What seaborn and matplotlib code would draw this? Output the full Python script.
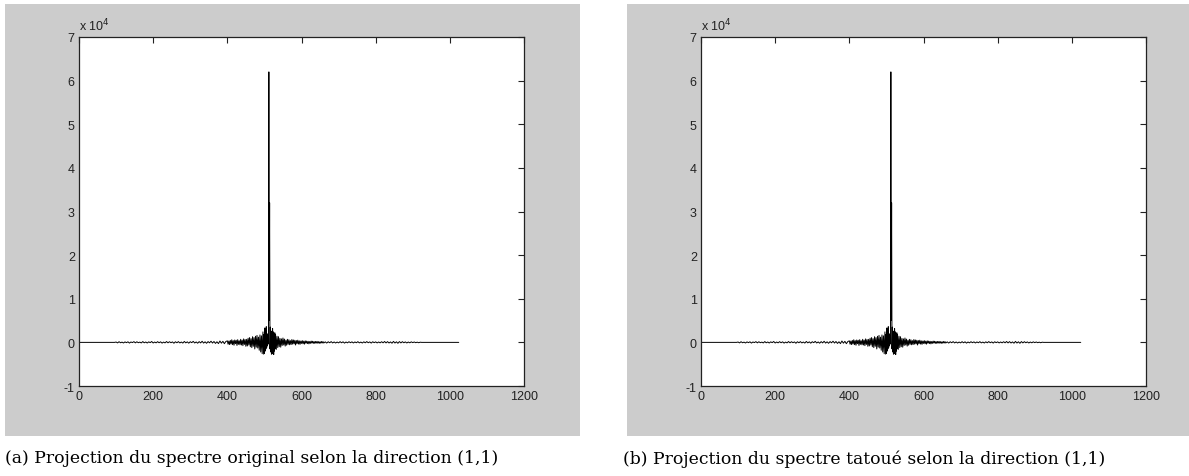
import matplotlib
import matplotlib.pyplot as plt
import seaborn as sns
import numpy as np
import pandas as pd
from matplotlib.patches import Rectangle
matplotlib.use("Agg")

# sample values (projection of the 2D spectrum)
flat_left = [0, 0]
noise_far_left = [80, -120, 150, -90, 60, -140, 110, -70, 130, -160, 90, -50, 170, -110, 140, -80, 60, -130, 180, -100,
                  90, -150, 120, -60, 200, -140, 80, -110, 160, -90, 130, -170, 70, -120, 190, -100, 150, -80, 110, -200,
                  140, -90, 170, -130, 80, -160, 210, -110, 120, -180, 150, -70, 230, -140, 100, -190, 170, -120, 250, -160,
                  130, -210, 180, -100, 260, -150, 200, -240, 140, -280, 310, -180, 240, -300, 200]
noise_left = [350, -420, 300, -500, 450, -380, 600, -520, 400, -650, 550, -300, 480, -700, 620, -450, 380, -560, 700, -600,
              520, -750, 800, -480, 650, -900, 700, -820, 950, -600, 1100, -1000, 850, -1200, 1300, -900, 1100, -1500, 1400, -1100,
              1600, -1300, 1200, -1800, 1700, -2200, 1500, -2600, 2400]
center = [-2700, 1800, -2500, 3300, -2000, 2800, -1500, 3600, -1200, 2000, -800, 1500, -400, 1200, 62000, 5000, 32000,
          -1500, 3500, -2200, 2600, -2700, 1800, -2600, 3200, -2300, 2400, -2800, 1600, -2000, 2200, -1500, 1800]
noise_right = [-1600, 1400, -1200, 1300, -1000, 900, -1100, 800, -700, 1000, -600, 750, -850, 500, -650, 700, -450, 600, -550, 400,
               -500, 650, -400, 550, -350, 480, -600, 420, -300, 500, -380, 350, -450, 300, -250, 400, -320, 280, -400, 350,
               -200, 300, -280, 250, -350, 200, -230, 300, -180, 260, -220, 190, -250, 210, -160, 230, -200, 170, -220, 150,
               -190, 200, -140, 180, -150]
noise_far_right = [120, -160, 140, -90, 170, -130, 100, -150, 80, -120, 160, -100, 130, -170, 90, -110, 150, -80, 120, -140,
                   100, -90, 160, -120, 70, -150, 130, -100, 180, -90, 110, -160, 140, -70, 120, -130, 90, -110, 150, -100,
                   200, -120, 170, -140, 100, -190, 220, -150, 130, -210, 180, -120, 160, -90, 110, -140, 80, -100, 120, -60,
                   90, -70, 50, -80, 40]
flat_right = [0, 0]

captions = ["(a) Projection du spectre original selon la direction (1,1)",
            "(b) Projection du spectre tatoué selon la direction (1,1)"]
x_ticks = [0, 200, 400, 600, 800, 1000, 1200]
y_ticks = [-1, 0, 1, 2, 3, 4, 5, 6, 7]


def build_frame():
    idx = np.concatenate([
        [1, 96],
        np.arange(100, 397, 4),
        np.arange(400, 497, 2),
        np.arange(498, 531, 1),
        np.arange(532, 661, 2),
        np.arange(664, 921, 4),
        [924, 1024],
    ])
    vals = (flat_left + noise_far_left + noise_left + center
            + noise_right + noise_far_right + flat_right)
    return pd.DataFrame({"n": idx, "v": np.array(vals, dtype=float)})


def draw_panel(fig, rect, df):
    ax = fig.add_axes(rect, zorder=2)
    sns.lineplot(data=df, x="n", y="v", ax=ax, color="black",
                 linewidth=0.7, estimator=None, sort=False)
    ax.set_xlim(0, 1200)
    ax.set_ylim(-1e4, 7e4)
    ax.set_xticks(x_ticks)
    ax.set_yticks([t * 1e4 for t in y_ticks])
    ax.set_yticklabels([str(t) for t in y_ticks])
    ax.set_xticklabels([str(t) for t in x_ticks])
    ax.tick_params(direction="in", length=4, width=0.8, top=True, right=True,
                   labelsize=9, labelcolor="#222222", color="#222222", pad=3)
    for lab in ax.get_xticklabels() + ax.get_yticklabels():
        lab.set_family("Liberation Sans")
    for s in ax.spines.values():
        s.set_color("#222222")
        s.set_linewidth(0.9)
    ax.set_xlabel("")
    ax.set_ylabel("")
    ax.set_facecolor("white")
    ax.text(0.0, 1.012, r"x 10$^4$", transform=ax.transAxes, fontsize=9,
            color="#222222", family="Liberation Sans", ha="left", va="bottom")
    return ax


def main():
    sns.set_style("white")
    W, H = 1189, 477
    fig = plt.figure(figsize=(W / 100, H / 100), dpi=100)
    fig.patch.set_facecolor("white")
    bg = fig.add_axes([0, 0, 1, 1], zorder=0)
    bg.set_xlim(0, W)
    bg.set_ylim(H, 0)
    bg.axis("off")
    for gx0, gx1 in [(5, 580), (627, 1189)]:
        bg.add_patch(Rectangle((gx0, 5), gx1 - gx0, 432,
                               facecolor="#cccccc", edgecolor="none"))
    df = build_frame()
    for ax_left, cap_x, cap in zip([79, 701], [5, 623], captions):
        draw_panel(fig, [ax_left / W, 1 - 387 / H, 445 / W, 349 / H], df)
        fig.text(cap_x / W, 1 - 459 / H, cap, fontsize=12.4,
                 family="DejaVu Serif", ha="left", va="center", color="black")
    fig.savefig("out.png", dpi=100)
    plt.close(fig)


if __name__ == "__main__":
    main()
